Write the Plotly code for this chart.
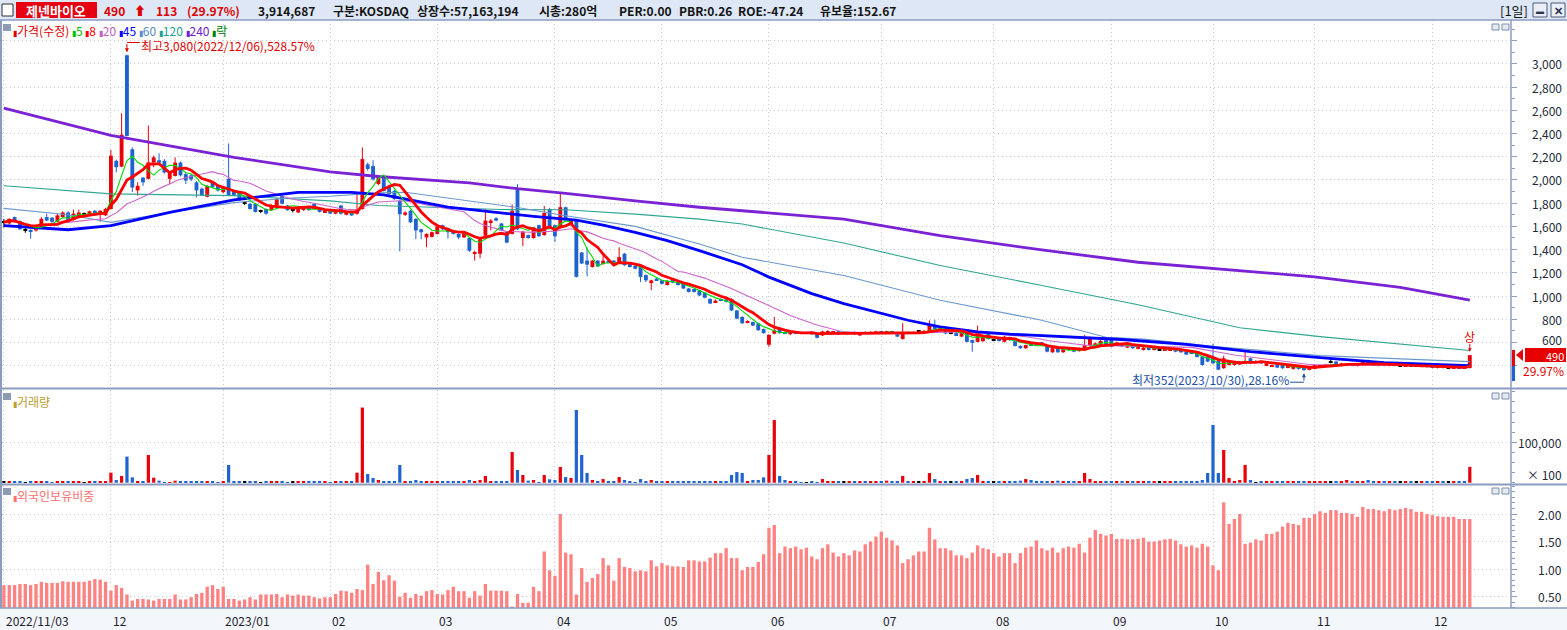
import pandas as pd
import plotly.graph_objects as go

# ---------------------------------------------------------------- data
# KRX trading calendar for the window shown (exchange holidays removed)
holidays = ["2022-12-30", "2023-01-23", "2023-01-24", "2023-03-01", "2023-05-01",
            "2023-05-05", "2023-05-29", "2023-06-06", "2023-08-15", "2023-09-28",
            "2023-09-29", "2023-10-02", "2023-10-03", "2023-10-09"]
trade_days = [d for d in pd.bdate_range("2022-11-03", "2023-12-12")
              if d.strftime("%Y-%m-%d") not in holidays]

month_labels = ["2022/11/03", "12", "2023/01", "02", "03", "04", "05",
                "06", "07", "08", "09", "10", "11", "12"]

# daily candles (open, high, low, close)
ohlc = [
    # 2022-11
    (1635, 1665, 1590, 1635), (1625, 1670, 1615, 1665), (1680, 1685, 1635, 1640), (1645, 1650, 1570, 1575),
    (1570, 1585, 1545, 1570), (1570, 1575, 1495, 1555), (1565, 1600, 1555, 1595), (1590, 1680, 1585, 1665),
    (1680, 1710, 1645, 1650), (1675, 1680, 1630, 1640), (1640, 1710, 1635, 1695), (1680, 1730, 1675, 1720),
    (1720, 1730, 1650, 1655), (1655, 1745, 1650, 1710), (1680, 1745, 1675, 1720), (1710, 1720, 1700, 1710),
    (1700, 1735, 1695, 1730), (1735, 1740, 1690, 1695), (1710, 1740, 1640, 1735), (1695, 1760, 1690, 1750),
    # 2022-12
    (1750, 2260, 1745, 2210), (2165, 2175, 2065, 2110), (2115, 2575, 2110, 2390), (3075, 3080, 2375, 2380),
    (2265, 2280, 1895, 1935), (1910, 1980, 1865, 1950), (2020, 2025, 1950, 1980), (2010, 2470, 2005, 2150),
    (2150, 2210, 2110, 2195), (2170, 2230, 2140, 2150), (2165, 2180, 2055, 2065), (2010, 2075, 1965, 2070),
    (2035, 2195, 2030, 2150), (2150, 2160, 2030, 2040), (2050, 2060, 1965, 1995), (2040, 2050, 1990, 2005),
    (1980, 1990, 1850, 1910), (1925, 1935, 1860, 1865), (1855, 1955, 1850, 1950), (1980, 1990, 1935, 1940),
    (1950, 1960, 1900, 1910),
    # 2023-01
    (1895, 1940, 1885, 1935), (2010, 2315, 1860, 1865), (1910, 1920, 1860, 1865), (1890, 1895, 1820, 1825),
    (1805, 1820, 1785, 1805), (1795, 1800, 1745, 1750), (1795, 1800, 1720, 1725), (1730, 1745, 1715, 1730),
    (1750, 1755, 1700, 1710), (1740, 1790, 1735, 1780), (1780, 1845, 1775, 1835), (1865, 1870, 1790, 1795),
    (1780, 1785, 1735, 1740), (1740, 1750, 1720, 1740), (1720, 1760, 1715, 1755), (1740, 1770, 1735, 1765),
    (1765, 1770, 1735, 1740), (1795, 1800, 1745, 1750), (1750, 1755, 1720, 1725), (1720, 1740, 1715, 1735),
    # 2023-02
    (1735, 1740, 1705, 1710), (1710, 1735, 1705, 1730), (1780, 1785, 1700, 1710), (1700, 1730, 1695, 1725),
    (1720, 1725, 1690, 1695), (1710, 1880, 1700, 1750), (1750, 2280, 1745, 2180), (2135, 2150, 2080, 2095),
    (2120, 2170, 1995, 2005), (1965, 2040, 1955, 2035), (2020, 2030, 1900, 1905), (1950, 1960, 1870, 1880),
    (1905, 1915, 1830, 1835), (1820, 1830, 1385, 1705), (1700, 1730, 1690, 1720), (1735, 1745, 1630, 1635),
    (1665, 1670, 1490, 1565), (1575, 1580, 1490, 1550), (1505, 1540, 1420, 1535), (1510, 1555, 1505, 1550),
    # 2023-03
    (1535, 1610, 1530, 1600), (1610, 1615, 1570, 1575), (1585, 1590, 1495, 1550), (1555, 1560, 1530, 1535),
    (1535, 1540, 1490, 1505), (1505, 1555, 1500, 1550), (1500, 1505, 1380, 1390), (1365, 1390, 1305, 1380),
    (1365, 1495, 1325, 1490), (1520, 1750, 1515, 1650), (1635, 1665, 1565, 1650), (1670, 1680, 1645, 1650),
    (1625, 1630, 1560, 1565), (1555, 1560, 1455, 1460), (1535, 1790, 1530, 1735), (1920, 1965, 1570, 1575),
    (1500, 1560, 1430, 1555), (1525, 1530, 1495, 1500), (1500, 1595, 1495, 1590), (1610, 1615, 1510, 1515),
    (1525, 1775, 1520, 1715), (1750, 1760, 1585, 1590),
    # 2023-04
    (1610, 1615, 1465, 1515), (1590, 1890, 1585, 1765), (1765, 1770, 1645, 1650), (1620, 1665, 1615, 1660),
    (1650, 1660, 1160, 1165), (1375, 1380, 1275, 1280), (1305, 1420, 1170, 1270), (1250, 1310, 1245, 1305),
    (1305, 1310, 1250, 1255), (1275, 1365, 1270, 1305), (1305, 1310, 1285, 1290), (1305, 1310, 1260, 1265),
    (1290, 1420, 1285, 1335), (1365, 1370, 1260, 1265), (1275, 1280, 1245, 1250), (1260, 1265, 1230, 1235),
    (1250, 1255, 1120, 1165), (1180, 1185, 1120, 1135), (1120, 1140, 1050, 1135), (1150, 1155, 1130, 1135),
    # 2023-05
    (1135, 1140, 1100, 1105), (1095, 1135, 1090, 1130), (1150, 1155, 1110, 1115), (1120, 1125, 1090, 1095),
    (1105, 1110, 1060, 1065), (1065, 1070, 1030, 1035), (1060, 1065, 1030, 1035), (1050, 1055, 1000, 1005),
    (1030, 1035, 980, 985), (975, 980, 930, 935), (945, 970, 940, 960), (975, 980, 955, 965),
    (970, 975, 945, 950), (975, 980, 870, 875), (875, 880, 800, 805), (820, 825, 760, 765),
    (770, 790, 765, 785), (775, 780, 740, 745), (765, 770, 700, 705), (715, 720, 675, 680),
    # 2023-06
    (580, 670, 560, 665), (675, 820, 670, 705), (725, 730, 675, 680), (690, 695, 675, 680),
    (670, 700, 665, 695), (690, 695, 670, 675), (690, 695, 672, 677), (685, 690, 675, 685),
    (690, 695, 665, 670), (675, 680, 635, 640), (660, 700, 655, 695), (685, 705, 680, 692),
    (683, 700, 680, 697), (697, 700, 665, 670), (680, 690, 672, 680), (675, 690, 672, 685),
    (690, 695, 665, 670), (660, 690, 655, 683), (690, 695, 672, 677), (675, 695, 670, 690),
    (680, 700, 675, 695),
    # 2023-07
    (695, 700, 678, 683), (683, 700, 680, 695), (695, 700, 680, 685), (670, 675, 645, 650),
    (630, 765, 625, 690), (690, 695, 670, 675), (677, 695, 672, 690), (697, 705, 690, 697),
    (685, 705, 680, 700), (690, 790, 685, 750), (750, 795, 710, 715), (705, 730, 700, 725),
    (705, 710, 670, 677), (680, 690, 670, 680), (680, 685, 660, 663), (650, 690, 645, 680),
    (690, 695, 600, 605), (620, 625, 520, 597), (605, 745, 600, 695), (610, 655, 605, 650),
    (675, 680, 625, 630),
    # 2023-08
    (620, 630, 610, 620), (630, 635, 608, 612), (605, 655, 600, 650), (645, 650, 615, 620),
    (610, 615, 565, 570), (570, 575, 545, 550), (550, 580, 545, 577), (590, 595, 572, 577),
    (595, 600, 578, 583), (600, 605, 572, 577), (563, 568, 515, 520), (515, 555, 510, 550),
    (550, 555, 510, 515), (515, 550, 510, 545), (550, 555, 530, 535), (555, 560, 515, 520),
    (525, 555, 520, 550), (535, 665, 530, 577), (577, 650, 572, 635), (577, 600, 572, 592),
    (577, 620, 572, 612), (620, 625, 572, 577),
    # 2023-09
    (620, 625, 558, 563), (572, 605, 568, 600), (590, 595, 560, 565), (555, 585, 550, 580),
    (575, 580, 545, 550), (545, 568, 540, 563), (535, 560, 530, 555), (555, 560, 530, 535),
    (535, 555, 530, 550), (535, 545, 530, 535), (530, 550, 525, 545), (530, 550, 525, 545),
    (545, 550, 515, 520), (535, 540, 510, 515), (520, 525, 490, 495), (520, 525, 500, 505),
    (510, 515, 470, 475), (477, 480, 400, 405), (477, 480, 430, 435),
    # 2023-10
    (470, 590, 415, 420), (440, 445, 360, 365), (378, 485, 372, 463), (405, 440, 400, 435),
    (405, 432, 400, 428), (410, 440, 405, 435), (420, 520, 415, 440), (463, 468, 415, 420),
    (435, 445, 425, 435), (440, 445, 415, 420), (405, 425, 400, 420), (392, 410, 388, 405),
    (405, 410, 378, 383), (405, 410, 372, 378), (383, 405, 378, 400), (372, 395, 365, 392),
    (392, 395, 365, 372), (375, 380, 352, 365), (363, 395, 360, 392),
    # 2023-11
    (372, 410, 368, 405), (383, 410, 380, 405), (392, 415, 388, 410), (428, 465, 420, 428),
    (435, 440, 400, 405), (400, 425, 395, 420), (400, 420, 395, 415), (415, 420, 395, 400),
    (398, 418, 392, 412), (405, 450, 400, 440), (448, 452, 415, 420), (420, 425, 400, 405),
    (400, 418, 395, 412), (412, 415, 395, 400), (398, 415, 393, 410), (410, 415, 393, 398),
    (400, 408, 395, 400), (395, 410, 390, 405), (405, 410, 388, 392), (395, 402, 388, 395),
    (390, 405, 385, 400), (400, 405, 383, 388),
    # 2023-12
    (392, 397, 378, 383), (380, 395, 375, 390), (390, 395, 375, 380), (383, 390, 378, 383),
    (378, 392, 372, 388), (388, 392, 372, 377), (383, 390, 372, 377), (380, 490, 375, 490),
]

# daily volume, in units of 100 shares
volume = [
    2000, 1800, 2200, 2500, 1500, 2000, 1800, 2200, 1900, 1700, 2100, 2300, 1800, 2000, 2200, 1500, 1900, 2100, 2400, 2600,
    24800, 6600, 16500, 64500, 13200, 2500, 2000, 68600, 12400, 5000, 1700, 1700, 5000, 4100, 2500, 2000, 2200, 1800, 2600, 1900, 1700,
    2000, 43800, 4100, 2500, 2000, 1800, 1900, 1700, 2200, 2400, 2100, 1800, 1600, 2000, 2100, 1900, 1800, 2000, 2200, 1900,
    1700, 2100, 2300, 2400, 2000, 24800, 186000, 21500, 11600, 6600, 4100, 4100, 2000, 43800, 4100, 4100, 6600, 4100, 2000, 2000,
    4100, 2000, 2000, 2000, 2000, 2000, 6600, 2500, 6600, 16500, 4100, 2500, 4100, 4100, 76000, 31400, 19000, 5000, 6600, 1700, 19000, 8300,
    6600, 39000, 14000, 11600, 180000, 68600, 24000, 6600, 4100, 9000, 4100, 4100, 14000, 6600, 4100, 1700, 9000, 4100, 6600, 2000,
    2500, 2000, 1800, 2200, 2000, 2500, 3000, 2500, 2000, 3000, 2500, 2000, 2200, 19000, 26400, 24000, 4100, 6600, 6600, 13200,
    68600, 155000, 16500, 6600, 4100, 4100, 1700, 1700, 4100, 1700, 9000, 3000, 2500, 2000, 2500, 2500, 2000, 2000, 2500, 2200, 2000,
    3000, 5000, 3000, 2500, 16500, 2500, 4100, 4100, 2500, 24000, 9000, 4100, 2500, 4100, 2000, 4100, 9000, 11600, 19000, 3000, 2500,
    2500, 2000, 2500, 2000, 3000, 5000, 9000, 6600, 3000, 2000, 2500, 3000, 5000, 2500, 2000, 2500, 3000, 24000, 9000, 4100, 2500, 2000,
    2500, 3000, 2500, 4100, 4100, 2500, 2000, 2500, 3000, 2500, 2500, 2000, 2500, 2000, 3000, 2500, 4100, 6600, 24000,
    143000, 24000, 81000, 11600, 4100, 6600, 44000, 6600, 1700, 2500, 2000, 2500, 2000, 2500, 2000, 3000, 2500, 2000, 4100,
    2500, 4100, 2500, 2000, 2500, 2000, 6600, 2000, 2500, 2000, 6600, 4100, 2500, 2000, 2500, 2000, 2500, 2000, 2500, 2000, 2500, 2500,
    2000, 2000, 2500, 2000, 2500, 2500, 4100, 39147,
]

# foreign ownership ratio (%)
foreign = [
    0.71, 0.71, 0.71, 0.73, 0.73, 0.71, 0.73, 0.77, 0.75, 0.75, 0.75, 0.78, 0.77, 0.77, 0.77, 0.77, 0.79, 0.82, 0.81, 0.77,
    0.61, 0.71, 0.66, 0.54, 0.43, 0.46, 0.46, 0.45, 0.43, 0.46, 0.46, 0.46, 0.54, 0.45, 0.45, 0.49, 0.55, 0.57, 0.68, 0.71, 0.64,
    0.68, 0.46, 0.46, 0.43, 0.45, 0.49, 0.45, 0.54, 0.54, 0.54, 0.55, 0.49, 0.54, 0.52, 0.54, 0.52, 0.52, 0.49, 0.47, 0.49,
    0.49, 0.55, 0.61, 0.60, 0.57, 0.64, 0.62, 1.08, 0.73, 0.95, 0.80, 0.89, 0.79, 0.50, 0.57, 0.48, 0.55, 0.52, 0.60, 0.62,
    0.55, 0.54, 0.62, 0.68, 0.60, 0.60, 0.48, 0.60, 0.52, 0.73, 0.61, 0.61, 0.61, 0.60, 0.32, 0.55, 0.39, 0.39, 0.68, 0.60, 1.32, 0.98,
    0.88, 2.00, 1.30, 1.27, 0.54, 1.02, 0.77, 0.84, 0.91, 1.20, 1.07, 0.79, 1.20, 1.04, 1.02, 0.96, 0.98, 0.96, 1.16, 1.05,
    1.11, 1.07, 1.05, 1.05, 1.04, 1.16, 1.16, 1.14, 1.14, 1.21, 1.29, 1.29, 1.38, 1.20, 1.20, 0.98, 1.04, 1.04, 1.13, 1.27,
    1.75, 1.80, 1.29, 1.41, 1.38, 1.41, 1.36, 1.39, 1.23, 1.18, 1.38, 1.45, 1.30, 1.23, 1.29, 1.25, 1.34, 1.32, 1.45, 1.50, 1.59,
    1.68, 1.57, 1.52, 1.43, 1.11, 1.18, 1.25, 1.32, 1.32, 1.75, 1.54, 1.38, 1.38, 1.34, 1.25, 1.25, 1.20, 1.30, 1.43, 1.38, 1.36,
    1.29, 1.23, 1.29, 1.29, 1.11, 1.29, 1.39, 1.41, 1.52, 1.38, 1.34, 1.39, 1.30, 1.38, 1.41, 1.39, 1.46, 1.30, 1.57, 1.71, 1.64, 1.61,
    1.64, 1.55, 1.55, 1.54, 1.54, 1.55, 1.57, 1.50, 1.50, 1.52, 1.54, 1.55, 1.52, 1.45, 1.41, 1.43, 1.39, 1.46, 1.41,
    1.07, 0.98, 2.21, 1.82, 1.91, 2.00, 1.46, 1.48, 1.54, 1.52, 1.64, 1.64, 1.68, 1.77, 1.84, 1.82, 1.80, 1.93, 1.93,
    2.00, 2.05, 2.02, 2.07, 2.07, 2.02, 2.02, 2.00, 1.95, 2.13, 2.09, 2.09, 2.07, 2.05, 2.09, 2.07, 2.09, 2.11, 2.09, 2.04, 2.04, 2.00,
    1.98, 1.96, 1.95, 1.95, 1.95, 1.91, 1.91, 1.91,
]

# long moving averages, read at sample days (they need history before the window)
ma45_days = [0, 12, 20, 31, 43, 55, 65, 71, 83, 99, 107, 112, 118, 124, 130, 138, 143, 151, 157, 163,
             169, 175, 182, 188, 200, 209, 221, 233, 246, 258, 274]
ma45_vals = [1606, 1571, 1606, 1720, 1829, 1894, 1894, 1871, 1766, 1686, 1654, 1611, 1549, 1477, 1391, 1270, 1163, 1020, 934, 863,
             791, 734, 691, 671, 643, 625, 583, 520, 469, 426, 400]
ma60_days = [0, 12, 20, 31, 43, 53, 61, 70, 75, 87, 96, 105, 118, 130, 138, 157, 175, 194, 206, 213, 227, 246, 258, 274]
ma60_vals = [1755, 1700, 1635, 1720, 1805, 1843, 1860, 1889, 1894, 1820, 1763, 1691, 1600, 1449, 1334, 1177, 963, 791, 645, 628,
             563, 486, 463, 434]
ma120_days = [0, 20, 43, 61, 70, 93, 105, 118, 130, 138, 157, 175, 194, 212, 231, 246, 274]
ma120_vals = [1950, 1880, 1865, 1820, 1780, 1745, 1743, 1706, 1663, 1620, 1457, 1263, 1091, 925, 726, 650, 530]
ma240_days = [0, 20, 43, 61, 70, 87, 96, 105, 118, 130, 138, 157, 175, 194, 212, 231, 245, 261, 274]
ma240_vals = [2620, 2385, 2195, 2070, 2030, 1975, 1925, 1885, 1820, 1765, 1735, 1663, 1520, 1397, 1291, 1220, 1165, 1075, 965]

assert len(trade_days) == len(ohlc) == len(volume) == len(foreign), (len(trade_days), len(ohlc), len(volume), len(foreign))

# ---------------------------------------------------------------- helpers
FONT = "Noto Sans CJK KR"
UP, DOWN, FLAT = "#e8000b", "#1f63cf", "#000000"
FRAME = "#8c9cc0"
GRID = "#c4c9d2"

# plot area in page pixels
L, R, T, B = 2, 1511, 20, 608


def px(x):
    return (x - L) / (R - L)


def py(y):
    return (B - y) / (B - T)


idx = list(range(len(ohlc)))
opens = [r[0] for r in ohlc]
highs = [r[1] for r in ohlc]
lows = [r[2] for r in ohlc]
closes = [r[3] for r in ohlc]
kind = ["up" if c > o else "down" if c < o else "flat" for o, c in zip(opens, closes)]
colour = {"up": UP, "down": DOWN, "flat": FLAT}

close_s = pd.Series(closes)
ma5 = close_s.rolling(5, min_periods=1).mean()
ma8 = close_s.rolling(8, min_periods=1).mean()
ma20 = close_s.rolling(20, min_periods=1).mean()

month_idx = []
prev = None
for i, d in enumerate(trade_days):
    if (d.year, d.month) != prev:
        month_idx.append(i)
        prev = (d.year, d.month)

fig = go.Figure()

# ---------------------------------------------------------------- price panel
for k in ("up", "down", "flat"):
    sel = [i for i in idx if kind[i] == k]
    wx, wy = [], []
    for i in sel:
        wx += [i, i, None]
        wy += [lows[i], highs[i], None]
    fig.add_trace(go.Scatter(x=wx, y=wy, mode="lines", line=dict(color=colour[k], width=1),
                             hoverinfo="skip", xaxis="x", yaxis="y"))
    heights = [max(abs(closes[i] - opens[i]), 9) for i in sel]
    bases = [min(opens[i], closes[i]) - (4.5 if opens[i] == closes[i] else 0) for i in sel]
    fig.add_trace(go.Bar(x=sel, y=heights, base=bases, width=0.72, marker=dict(color=colour[k], line_width=0),
                         hoverinfo="skip", xaxis="x", yaxis="y"))

ma_lines = [
    (ma240_days, ma240_vals, "#7a22d4", 2.8),
    (ma120_days, ma120_vals, "#2fa594", 1.1),
    (ma60_days, ma60_vals, "#6b98cc", 1.1),
    (idx, ma20, "#cc66cc", 1.1),
    (ma45_days, ma45_vals, "#0000ff", 2.8),
    (idx, ma5, "#00dd00", 1.1),
    (idx, ma8, "#ff0000", 2.8),
]
for xs, ys, c, w in ma_lines:
    fig.add_trace(go.Scatter(x=list(xs), y=list(ys), mode="lines", line=dict(color=c, width=w),
                             hoverinfo="skip", xaxis="x", yaxis="y"))

# ---------------------------------------------------------------- volume + foreign panels
fig.add_trace(go.Bar(x=idx, y=volume, width=0.6, marker=dict(color=[colour[k] for k in kind], line_width=0),
                     hoverinfo="skip", xaxis="x2", yaxis="y2"))
fig.add_trace(go.Bar(x=idx, y=foreign, width=0.62, marker=dict(color="#ff8282", line_width=0),
                     hoverinfo="skip", xaxis="x3", yaxis="y3"))

xr = [(L - 3.9) / 5.35, (R - 3.9) / 5.35]
xcommon = dict(range=xr, tickvals=month_idx, showticklabels=False, showgrid=True, gridcolor=GRID,
               griddash="1px,3px", gridwidth=1, zeroline=False, showline=False)
ycommon = dict(side="right", showticklabels=False, ticks="outside", ticklen=5, tickcolor=FRAME,
               showgrid=True, gridcolor=GRID, griddash="1px,3px", zeroline=False, showline=False)

price_ticks = list(range(400, 3201, 200))
fig.update_layout(
    width=1567, height=630,
    margin=dict(l=L, r=1567 - R, t=T, b=630 - B),
    paper_bgcolor="white", plot_bgcolor="white",
    showlegend=False, barmode="overlay",
    xaxis=dict(**xcommon, anchor="y", ticks=""),
    xaxis2=dict(**xcommon, anchor="y2", matches="x", ticks=""),
    xaxis3=dict(**xcommon, anchor="y3", matches="x", ticks="outside", ticklen=4, tickcolor="#56627a"),
    yaxis=dict(**ycommon, domain=[py(388), 1], range=[207, 3379], tickvals=price_ticks,
               minor=dict(ticks="outside", ticklen=3, tickcolor=FRAME, dtick=100, tick0=0, showgrid=False)),
    yaxis2=dict(**ycommon, domain=[py(484), py(390)], range=[-3218, 229455], tickvals=[100000],
                minor=dict(ticks="outside", ticklen=3, tickcolor=FRAME, dtick=25000, tick0=0, showgrid=False)),
    yaxis3=dict(**ycommon, domain=[0, py(486)], range=[0.295, 2.508], tickvals=[0.5, 1.0, 1.5, 2.0],
                minor=dict(ticks="outside", ticklen=3, tickcolor=FRAME, dtick=0.1, tick0=0, showgrid=False)),
)


def ann(x, y, text, size=12, color="#1c2230", anchor="left", xref="paper", yref="paper", **kw):
    fig.add_annotation(x=x, y=y, xref=xref, yref=yref, text=text, showarrow=False, xanchor=anchor,
                       yanchor="middle", borderpad=0, font=dict(family=FONT, size=size, color=color), **kw)


def rect(x0, y0, x1, y1, fill, line=None, lw=1):
    fig.add_shape(type="rect", xref="paper", yref="paper", x0=px(x0), x1=px(x1), y0=py(y1), y1=py(y0),
                  fillcolor=fill, line=dict(color=line or fill, width=lw if line else 0), layer="above")


def hline(y, x0, x1, color=FRAME, w=1):
    fig.add_shape(type="line", xref="paper", yref="paper", x0=px(x0), x1=px(x1), y0=py(y), y1=py(y),
                  line=dict(color=color, width=w), layer="above")


# axis tick labels, right aligned as in the original
for v in range(600, 3001, 200):
    ann(px(1563), v, f"{v:,}", anchor="right", yref="y", size=12, color="#222a3a", yshift=3 if v == 600 else 0)
ann(px(1563), 100000, "100,000", anchor="right", yref="y2", size=12, color="#222a3a")
ann(px(1563), py(474), "× 100", anchor="right", size=12, color="#222a3a")
for v in (0.5, 1.0, 1.5, 2.0):
    ann(px(1563), v, f"{v:.2f}", anchor="right", yref="y3", size=12, color="#222a3a")

# month labels under the ticks
for i, lab in zip(month_idx, month_labels):
    ann(i, py(620), lab, xref="x3", size=12, color="#1c2230", xshift=1)

# frames and panel separators
rect(0, 608, 1567, 630, "#f3f6fa")
hline(388.5, 0, 1567, w=2)
hline(484.5, 0, 1567, w=2)
hline(608, 0, 1567, w=1.5)
fig.add_shape(type="line", xref="paper", yref="paper", x0=px(R), x1=px(R), y0=0, y1=1,
              line=dict(color=FRAME, width=1.5), layer="above")
fig.add_shape(type="line", xref="paper", yref="paper", x0=px(1), x1=px(1), y0=0, y1=1,
              line=dict(color=FRAME, width=2), layer="above")

# header bar
rect(0, 0, 1567, 20, "#dde7f5")
hline(20, 0, 1567, w=1.5)
rect(2, 4, 13, 16, "white", line="#303030")
rect(16, 2, 97, 18, "#e60012")
ann(px(56), py(10.5), "<b>제넨바이오</b>", size=13, color="white", anchor="center")
ann(px(103), py(11), "<b>490</b>", size=12, color="#e00000")
ann(px(133), py(11), "<b>⬆</b>", size=12, color="#e00000")
ann(px(155), py(11), "<b>113</b>", size=12, color="#e00000")
ann(px(186), py(11), "<b>(29.97%)</b>", size=12, color="#e00000")
header_items = [(257, "3,914,687"), (332, "구분:KOSDAQ"), (416, "상장수:57,163,194"), (538, "시총:280억"),
                (618, "PER:0.00"), (678, "PBR:0.26"), (737, "ROE:-47.24"), (819, "유보율:152.67")]
for x, t in header_items:
    ann(px(x), py(11), f"<b>{t}</b>", size=12, color="#141414")
ann(px(1499), py(11), "[1일]", size=13, color="#141414")
rect(1533, 3, 1547, 17, "#e9eef8", line="#4a5a78")
rect(1551, 3, 1565, 17, "#e9eef8", line="#4a5a78")
ann(px(1540), py(10), "<b>▬</b>", size=8, color="#2a3550", anchor="center")
ann(px(1558), py(10), "<b>✕</b>", size=11, color="#2a3550", anchor="center")

# panel handles and small buttons
for top in (24, 393, 488):
    rect(3, top, 11, top + 7, "#8d9bb5")
    rect(1492, top, 1499, top + 6, "#e4e9f2", line="#7f8fae")
    rect(1502, top, 1509, top + 6, "#e4e9f2", line="#7f8fae")


def mark(c):
    return f"<span style='font-size:8px;color:{c}'>▮</span>"


legend_items = [("가격(수정)", "#e00000"), ("5", "#00c000"), ("8", "#ff0000"), ("20", "#c060c0"),
                ("45", "#0000ff"), ("60", "#5a8ac8"), ("120", "#20a090"), ("240", "#7020d0"),
                ("락", "#008000")]
legend_text = " ".join(f"{mark(c)}<span style='color:{c}'>{t}</span>" for t, c in legend_items)
ann(px(12), py(31), legend_text, size=12)
ann(px(12), py(401), mark("#b8a030") + "거래량", size=12, color="#b8a030")
ann(px(12), py(495), mark("#ff7070") + "외국인보유비중", size=12, color="#ff7070")

# high / low markers
hi_i = max(idx, key=lambda i: highs[i])
lo_i = min(idx, key=lambda i: lows[i])
fig.add_shape(type="line", xref="x", yref="y", x0=hi_i, x1=hi_i + 2.4, y0=3185, y1=3185,
              line=dict(color="#e00000", width=1))
fig.add_annotation(x=hi_i, y=3100, ax=hi_i, ay=3185, xref="x", yref="y", axref="x", ayref="y",
                   text="", showarrow=True, arrowhead=2, arrowsize=0.8, arrowwidth=1, arrowcolor="#e00000")
ann(hi_i + 2.4, 3160, f"최고{highs[hi_i]:,}({trade_days[hi_i]:%Y/%m/%d}),528.57%",
    xref="x", yref="y", size=12, color="#e00000")

fig.add_shape(type="line", xref="x", yref="y", x0=lo_i - 2.6, x1=lo_i, y0=257, y1=257,
              line=dict(color="#2050a8", width=1))
fig.add_annotation(x=lo_i, y=335, ax=lo_i, ay=257, xref="x", yref="y", axref="x", ayref="y",
                   text="", showarrow=True, arrowhead=2, arrowsize=0.8, arrowwidth=1, arrowcolor="#2050a8")
ann(lo_i - 2.7, 277, f"최저{lows[lo_i]:,}({trade_days[lo_i]:%Y/%m/%d}),28.16%",
    xref="x", yref="y", size=12, color="#2050a8", anchor="right")

# upper-limit mark on the last candle
last = idx[-1]
ann(last, 655, "상", xref="x", yref="y", size=12, color="#e00000", anchor="center")
fig.add_annotation(x=last, y=520, ax=last, ay=600, xref="x", yref="y", axref="x", ayref="y",
                   text="", showarrow=True, arrowhead=2, arrowsize=0.7, arrowwidth=1, arrowcolor="#e00000")

# current price flag on the axis
rect(1512, 350, 1515, 366, UP)
rect(1512, 366, 1515, 381, DOWN)
fig.add_shape(type="path", xref="paper", yref="paper",
              path=f"M {px(1516)},{py(355)} L {px(1523)},{py(349)} L {px(1523)},{py(361)} Z",
              fillcolor=UP, line=dict(width=0), layer="above")
rect(1525, 348, 1566, 362, "#e60000")
ann(px(1565), py(356), f"{closes[-1]:,}", size=11, color="white", anchor="right")
ann(px(1565), py(370), "29.97%", size=12, color="#e00000", anchor="right")

fig.write_html("out.html", config={"displayModeBar": False},
               post_script="document.body.style.margin='0px';document.body.style.overflow='hidden';")
